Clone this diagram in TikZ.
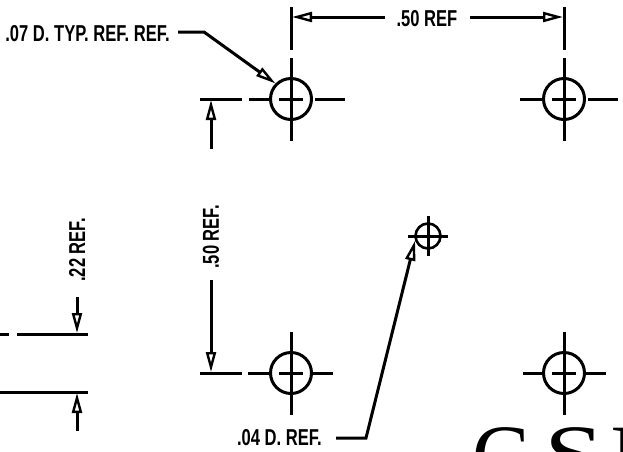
\documentclass[tikz,border=0pt]{standalone}
\usepackage{fontspec}
\setmainfont{Liberation Sans}
\newfontfamily\wmfont{Liberation Serif}
\usetikzlibrary{arrows.meta}
\tikzset{
 ln/.style={line width=3pt,line cap=butt},
 dimhead/.style={-{Triangle[open,fill=white,length=20pt,width=10pt,line width=2.4pt]}},
 hole/.style={circle,draw,line width=3pt,inner sep=0pt,minimum size=41pt},
 smallhole/.style={circle,draw,line width=2.6pt,inner sep=0pt,minimum size=25pt},
 lbl/.style={inner sep=0pt,font=\fontsize{23}{23}\selectfont\bfseries},
}
\newcommand{\nar}[1]{\scalebox{0.72}[1]{#1}}
\begin{document}
\begin{tikzpicture}[x=1pt,y=-1pt]
\useasboundingbox (0,0) rectangle (623,451);
\clip (0,0) rectangle (623,451);
% holes
\node[hole] (A) at (291,99) {};
\node[hole] (B) at (564,99) {};
\node[hole] (C) at (291,373) {};
\node[hole] (D) at (564,373) {};
\node[smallhole] (S) at (428,236) {};
% centre marks
\foreach \h in {A,B,C,D}{
 \draw[ln] ([xshift=-12pt]\h.center) -- ([xshift=12pt]\h.center);
 \draw[ln] ([yshift=-12pt]\h.center) -- ([yshift=12pt]\h.center);
 \draw[ln] (\h.north) -- ([yshift=-42pt]\h.center);
 \draw[ln] (\h.south) -- ([yshift=41pt]\h.center);
}
\draw[ln] (A.west) -- ([xshift=-42pt]A.center);
\draw[ln] ([xshift=24pt]A.center) -- ([xshift=54pt]A.center);
\draw[ln] (B.west) -- ([xshift=-44pt]B.center);
\draw[ln] ([xshift=24pt]B.center) -- ([xshift=54pt]B.center);
\draw[ln] (C.west) -- ([xshift=-43pt]C.center);
\draw[ln] (C.east) -- ([xshift=42pt]C.center);
\draw[ln] (D.west) -- ([xshift=-41pt]D.center);
\draw[ln] (D.east) -- ([xshift=42pt]D.center);
\draw[ln] ([xshift=-20pt]S.center) -- ([xshift=20pt]S.center);
\draw[ln] ([yshift=-20pt]S.center) -- ([yshift=20pt]S.center);
% extension lines
\coordinate (e1a) at (291,7); \coordinate (e1b) at (291,50);
\coordinate (e2a) at (564,7); \coordinate (e2b) at (564,50);
\draw[ln] (e1a) -- (e1b);
\draw[ln] (e2a) -- (e2b);
\coordinate (e3a) at (200,99); \coordinate (e3b) at (242,99);
\coordinate (e4a) at (200,373); \coordinate (e4b) at (242,373);
\draw[ln] (e3a) -- (e3b);
\draw[ln] (e4a) -- (e4b);
% top dim
\coordinate (t1) at (292,17); \coordinate (t2) at (563,17);
\node[lbl] (L50h) at (427,19) {\nar{.50 REF}};
\coordinate (t1e) at (385,17); \coordinate (t2e) at (470,17);
\draw[ln,dimhead] (t1e) -- (t1);
\draw[ln,dimhead] (t2e) -- (t2);
% left dim
\coordinate (v1) at (211,100); \coordinate (v2) at (211,372);
\coordinate (v1e) at (211,149); \coordinate (v2e) at (211,280);
\node[lbl,rotate=90] (L50v) at (211,237) {\nar{.50 REF.}};
\draw[ln,dimhead] (v1e) -- (v1);
\draw[ln,dimhead] (v2e) -- (v2);
% .22 dim
\coordinate (l1a) at (0,334); \coordinate (l1b) at (9,334);
\coordinate (l1c) at (17,334); \coordinate (l1d) at (88,334);
\coordinate (l2a) at (0,392); \coordinate (l2b) at (88,392);
\draw[ln] (l1a) -- (l1b);
\draw[ln] (l1c) -- (l1d);
\draw[ln] (l2a) -- (l2b);
\coordinate (a1) at (77,333); \coordinate (a1e) at (77,297);
\coordinate (a2) at (77,393); \coordinate (a2e) at (77,431);
\draw[ln,dimhead] (a1e) -- (a1);
\draw[ln,dimhead] (a2e) -- (a2);
\node[lbl,rotate=90] (L22) at (77,250) {\nar{.22 REF.}};
% leaders
\node[lbl,anchor=east] (L07) at (170,34) {\nar{.07 D. TYP. REF. REF.}};
\coordinate (k1s) at (178,32); \coordinate (k1) at (204,32);
\draw[ln,dimhead] (k1s) -- (k1) -- (A.135);
\node[lbl,anchor=east] (L04) at (322,438) {\nar{.04 D. REF.}};
\coordinate (k2s) at (336,438); \coordinate (k2) at (366,438);
\draw[ln,dimhead] (k2s) -- (k2) -- (S.200);
% cropped big letters
\node[anchor=base west,inner sep=0pt,font=\wmfont\fontsize{86}{86}\selectfont] (W) at (472,484) {C\hspace{15pt}\scalebox{1.25}[1]{S}\hspace{6.3pt}I};
\end{tikzpicture}
\end{document}
